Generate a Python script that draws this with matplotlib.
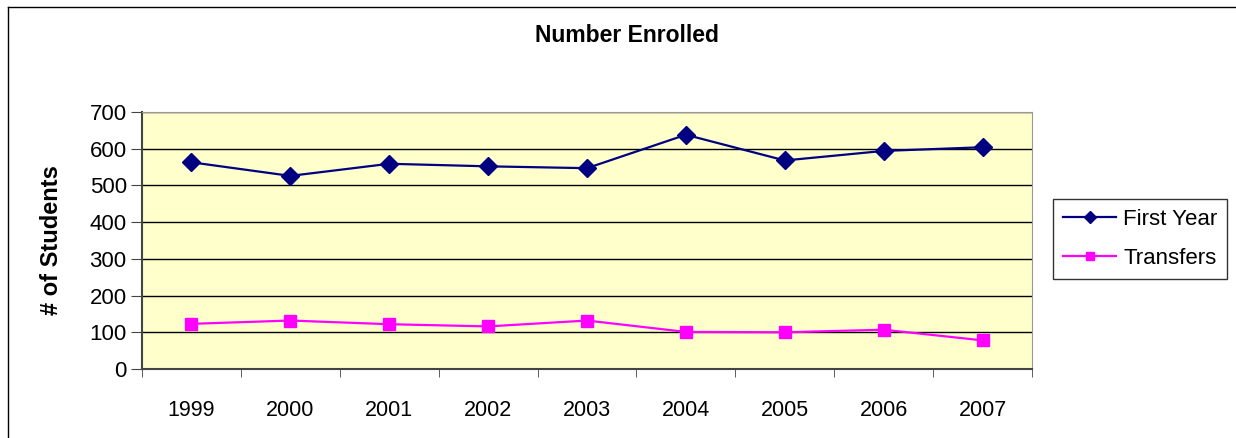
import matplotlib.pyplot as plt
import numpy as np
from matplotlib.lines import Line2D

plt.rcParams['font.family'] = ['Liberation Sans', 'DejaVu Sans']

years = ['1999', '2000', '2001', '2002', '2003', '2004', '2005', '2006', '2007']
first_year = [563, 526, 559, 552, 547, 638, 568, 594, 604]
transfers = [123, 132, 122, 116, 132, 101, 100, 107, 78]
yticks = [0, 100, 200, 300, 400, 500, 600, 700]

fig = plt.figure(figsize=(12.36, 4.38), dpi=100)
ax = fig.add_axes([142 / 1236, 1 - 369 / 438, 890 / 1236, 257 / 438])
ax.set_facecolor('#FFFFCC')

x = np.arange(len(years))
ax.plot(x, first_year, color='#000080', marker='D', markersize=9, linewidth=1.6, label='First Year')
ax.plot(x, transfers, color='#FF00FF', marker='s', markersize=9, linewidth=1.6, label='Transfers')

ax.set_xlim(-0.5, len(years) - 0.5)
ax.set_ylim(0, 700)
ax.set_yticks(yticks)
ax.set_yticklabels([str(v) for v in yticks], fontsize=16)
ax.set_xticks(x)
ax.set_xticklabels(years, fontsize=15.5)
ax.set_xticks(np.arange(-0.5, len(years), 1), minor=True)
ax.tick_params(axis='x', which='major', length=0, pad=22)
ax.tick_params(axis='x', which='minor', length=6, direction='out', color='#444444')
ax.tick_params(axis='y', length=8, direction='out', color='#444444', pad=3)
ax.grid(axis='y', color='black', linewidth=1)
ax.set_axisbelow(True)
for side in ['top', 'right']:
    ax.spines[side].set_color('#999999')
for side in ['left', 'bottom']:
    ax.spines[side].set_color('#444444')
    ax.spines[side].set_linewidth(1.5)

fig.text(52 / 1236, 1 - 240 / 438, '# of Students', rotation=90, fontsize=17,
         fontweight='bold', ha='center', va='center')
fig.text(627 / 1236, 1 - 35 / 438, 'Number Enrolled', fontsize=16.5,
         fontweight='bold', ha='center', va='center')

leg = fig.legend(loc='upper left', bbox_to_anchor=(1053 / 1236, 1 - 199 / 438),
                 fontsize=16, frameon=True, fancybox=False, borderpad=0.45,
                 handlelength=2.4, handletextpad=0.3, labelspacing=0.8,
                 markerscale=0.7, borderaxespad=0)
leg.get_frame().set_edgecolor('black')
leg.get_frame().set_linewidth(1)

# outer chart border (only left and top visible in the original)
fig.add_artist(Line2D([8 / 1236, 8 / 1236], [0, 1 - 7 / 438], transform=fig.transFigure,
                      color='black', linewidth=1))
fig.add_artist(Line2D([8 / 1236, 1], [1 - 7 / 438, 1 - 7 / 438], transform=fig.transFigure,
                      color='black', linewidth=1))

fig.savefig('out.png', dpi=100)
